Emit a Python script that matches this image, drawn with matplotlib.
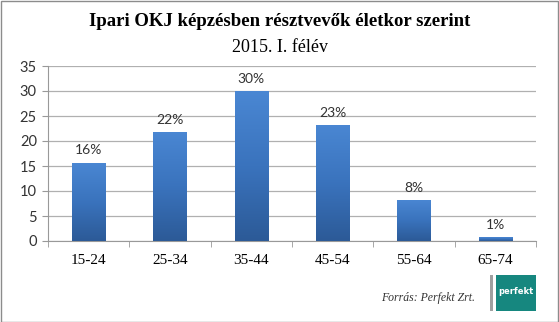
import numpy as np
import matplotlib.pyplot as plt
from matplotlib.patches import Rectangle
from matplotlib.ticker import FixedLocator
from matplotlib.colors import LinearSegmentedColormap

age_groups = ["15-24", "25-34", "35-44", "45-54", "55-64", "65-74"]
shares = [15.7, 21.8, 30.0, 23.2, 8.3, 0.8]
y_ticks = [0, 5, 10, 15, 20, 25, 30, 35]

W, H = 559, 322
fig = plt.figure(figsize=(W / 100, H / 100), dpi=100)
fig.patch.set_facecolor("white")

ax = fig.add_axes([48 / W, 1 - 241 / H, (536 - 48) / W, (241 - 66) / H])
x = np.arange(len(age_groups))
bar_w = 0.41

# vertical gradient for the bars
grad = np.linspace(0, 1, 256).reshape(-1, 1)
cmap = LinearSegmentedColormap.from_list("barblue", ["#2c5a97", "#3a73bd", "#4a87d3"])

for xi, v in zip(x, shares):
    rect = Rectangle((xi - bar_w / 2, 0), bar_w, v, facecolor="none", edgecolor="none")
    ax.add_patch(rect)
    im = ax.imshow(grad, extent=[xi - bar_w / 2, xi + bar_w / 2, 0, v], origin="lower",
                   cmap=cmap, aspect="auto", zorder=3)
    im.set_clip_path(rect)
    ax.text(xi, v + 1.2, f"{v:.0f}%", ha="center", va="bottom", fontsize=10,
            family="Lato", color="#333333", zorder=4)

ax.set_xlim(-0.5, len(age_groups) - 0.5)
ax.set_ylim(0, 35)
ax.set_yticks(y_ticks)
ax.yaxis.grid(True, color="#b0b0b0", linewidth=0.9)
ax.set_axisbelow(True)
ax.set_xticks(x)
ax.set_xticklabels(age_groups, family="Liberation Serif", fontsize=11)
ax.xaxis.set_minor_locator(FixedLocator(np.arange(-0.5, len(age_groups), 1.0)))
ax.tick_params(axis="x", which="major", length=0, pad=9)
ax.tick_params(axis="x", which="minor", length=4, color="#999999")
ax.tick_params(axis="y", length=4, color="#999999", labelsize=10.5, pad=4)
for lab in ax.get_yticklabels():
    lab.set_family("Lato")
    lab.set_color("#333333")
for s in ["top", "right"]:
    ax.spines[s].set_visible(False)
for s in ["left", "bottom"]:
    ax.spines[s].set_color("#999999")

fig.text(280 / W, 1 - 22 / H, "Ipari OKJ képzésben résztvevők életkor szerint",
         ha="center", va="center", family="Liberation Serif", fontsize=13.5, fontweight="bold")
fig.text(280 / W, 1 - 47 / H, "2015. I. félév", ha="center", va="center",
         family="Liberation Serif", fontsize=13)

fig.text(475 / W, 1 - 298 / H, "Forrás: Perfekt Zrt.", ha="right", va="center",
         family="Liberation Serif", style="italic", fontsize=8.5, color="#333333")

# logo block
fig.patches.append(Rectangle((490 / W, 1 - 311 / H), 3 / W, 36 / H,
                             transform=fig.transFigure, facecolor="#a0a0a0", edgecolor="none"))
fig.patches.append(Rectangle((496 / W, 1 - 311 / H), 40 / W, 36 / H,
                             transform=fig.transFigure, facecolor="#16877f", edgecolor="none"))
fig.text(516 / W, 1 - 291 / H, "perfekt", ha="center", va="center", color="white",
         fontsize=6, fontweight="bold", family="DejaVu Sans")

# outer frame
fig.patches.append(Rectangle((0.5 / W, 0.5 / H), 1 - 1.5 / W, 1 - 1.5 / H,
                             transform=fig.transFigure, facecolor="none",
                             edgecolor="#8c8c8c", linewidth=1))

fig.savefig("out.png", dpi=100)
